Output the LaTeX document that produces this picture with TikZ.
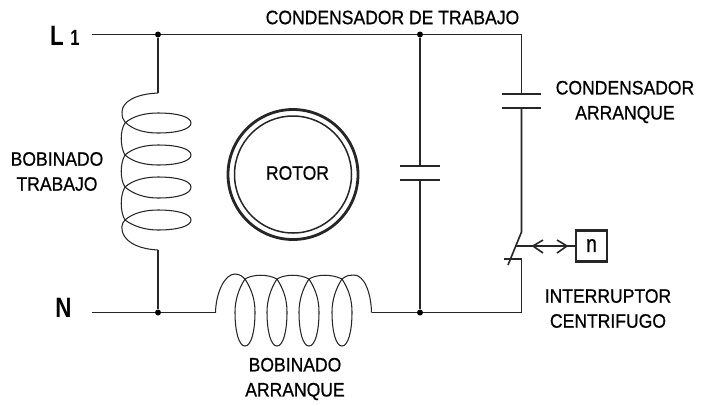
\documentclass[tikz,border=0pt]{standalone}
\usepackage{fontspec}
\setmainfont{Liberation Sans}
\newfontfamily\lblfont[FakeBold=0.7]{Liberation Sans}
\usetikzlibrary{arrows.meta}
\definecolor{ink}{gray}{0.15}
\tikzset{
  wire/.style={draw=ink,line width=1.6pt},
  coilw/.style={draw=ink,line width=1.05pt},
  plate/.style={draw=ink,line width=2.2pt},
  joint/.style={circle,fill=black,inner sep=0pt,minimum size=6pt},
  lbl/.style={text=black,font=\lblfont\fontsize{19.5}{25}\selectfont,align=center,inner sep=0pt,xscale=0.9},
  big/.style={text=black,font=\fontsize{28}{30}\selectfont\bfseries,inner sep=0pt,xscale=0.8}
}
\begin{document}
\begin{tikzpicture}[x=1pt,y=-1pt]
\useasboundingbox (0,0) rectangle (712,405);
\fill[white] (0,0) rectangle (712,405);
% labels
\node[big] (l1) at (57,36) {L};
\node[text=black,font=\fontsize{22}{24}\selectfont\bfseries,inner sep=0pt,xscale=0.75] (l1b) at (75,38) {1};
\node[big] (n) at (63.5,308) {N};
\node[lbl] (ct) at (392.5,17.5) {CONDENSADOR DE TRABAJO};
\node[lbl] (ca) at (625,102) {CONDENSADOR\\ARRANQUE\hspace{10pt}};
\node[lbl] (bt) at (57,171.5) {BOBINADO\\TRABAJO};
\node[lbl] (ro) at (297.5,173) {ROTOR};
\node[lbl] (ic) at (608,308.5) {INTERRUPTOR\\CENTRIFUGO};
\node[lbl] (ba) at (295,379) {BOBINADO\\ARRANQUE};
% junctions
\node[joint] (j1) at (158,34.5) {};
\node[joint] (j2) at (420,34.5) {};
\node[joint] (j3) at (158,312.5) {};
\node[joint] (j4) at (420,312.5) {};
\coordinate (s1) at (92,34.5);
\coordinate (s2) at (92,312.5);
\coordinate (tr) at (521.5,34.5);
\coordinate (br) at (521.5,312.5);
% wires
\draw[wire] (s1) -- (j1) -- (j2) -- (tr) -- (521.5,94);
\draw[plate] (502,94) -- (541,94);
\draw[plate] (502,108) -- (541,108);
\draw[wire] (521.5,108) -- (521.5,232) -- (508,265);
\draw[wire] (504,259) -- (521.5,259) -- (br) -- (j4);
\draw[wire] (j1) -- (158,93);
\draw[wire] (158,250) -- (j3);
\draw[wire] (s2) -- (j3) -- (215.5,312.5);
\draw[wire] (371.5,312.5) -- (j4);
\draw[wire] (j2) -- (420,166);
\draw[plate] (400,166) -- (440,166);
\draw[plate] (400,180) -- (440,180);
\draw[wire] (420,180) -- (j4);
% vertical coil
\draw[coilw] (158,93) .. controls (135,94) and (122,102) .. (122,112) .. controls (122,117) and (123,120) .. (125,122)
  .. controls (133,130) and (145,133) .. (158,133) .. controls (178,133) and (191,129) .. (191,123) .. controls (191,117) and (178,113) .. (158,113) .. controls (145,113) and (133,116) .. (125,123)
  .. controls (120,130) and (120,147) .. (125,155)
  .. controls (133,162) and (145,165) .. (158,165) .. controls (178,165) and (191,161) .. (191,155) .. controls (191,149) and (178,145) .. (158,145) .. controls (145,145) and (133,148) .. (125,155)
  .. controls (120,163) and (120,180) .. (125,187)
  .. controls (133,194) and (145,198) .. (158,198) .. controls (178,198) and (191,194) .. (191,187) .. controls (191,181) and (178,177) .. (158,177) .. controls (145,177) and (133,180) .. (125,187)
  .. controls (120,195) and (120,212) .. (125,220)
  .. controls (133,226) and (145,230) .. (158,230) .. controls (178,230) and (191,226) .. (191,220) .. controls (191,214) and (178,210) .. (158,210) .. controls (145,210) and (133,213) .. (125,220)
  .. controls (118,226) and (120,248) .. (158,250);
% horizontal coil
\draw[coilw] (215.5,312.5) .. controls (216,292) and (225,274) .. (235,274) .. controls (240,274) and (243,277) .. (245,279)
  .. controls (252,290) and (255,300) .. (255,312) .. controls (255,332) and (251,346) .. (245,346) .. controls (239,346) and (235,332) .. (235,312) .. controls (235,300) and (239,288) .. (245,279)
  .. controls (253,274) and (268,274) .. (277,279)
  .. controls (284,290) and (287,300) .. (287,312) .. controls (287,332) and (283,346) .. (277,346) .. controls (271,346) and (267,332) .. (267,312) .. controls (267,300) and (271,288) .. (277,279)
  .. controls (285,274) and (300,274) .. (309,279)
  .. controls (316,290) and (319,300) .. (319,312) .. controls (319,332) and (315,346) .. (309,346) .. controls (303,346) and (299,332) .. (299,312) .. controls (299,300) and (303,288) .. (309,279)
  .. controls (317,274) and (332,274) .. (342,279)
  .. controls (349,290) and (352,300) .. (352,312) .. controls (352,332) and (348,346) .. (342,346) .. controls (336,346) and (332,332) .. (332,312) .. controls (332,300) and (336,288) .. (342,279)
  .. controls (347,275) and (350,275) .. (354,275) .. controls (364,275) and (371,292) .. (371.5,312.5);
% rotor
\draw[ink,line width=2.8pt] (293,174.5) circle (65);
\draw[ink,line width=1.5pt] (293,174.5) circle (58.5);
% switch actuator
\node[draw=ink,line width=2.4pt,minimum size=31pt,inner sep=0pt,text=black,font=\lblfont\fontsize{24}{24}\selectfont] (nbox) at (591.5,246) {\raisebox{1pt}{\scalebox{0.8}[1]{n}}};
\coordinate (sw) at (516,246);
\draw[wire] (sw) -- (nbox.west);
\draw[wire] (543,240) -- (533,246) -- (543,253);
\draw[wire] (557,240) -- (567,246) -- (557,253);
\end{tikzpicture}
\end{document}
